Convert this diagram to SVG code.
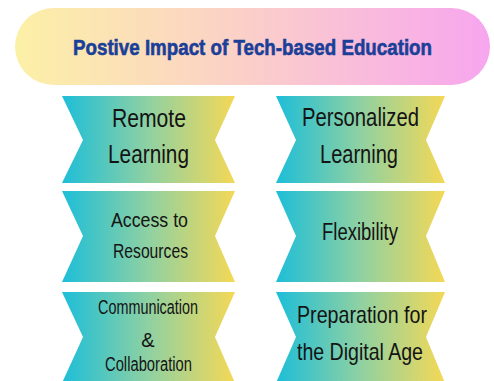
<svg xmlns="http://www.w3.org/2000/svg" width="494" height="381" viewBox="0 0 494 381">
  <defs>
    <linearGradient id="pillFill" x1="0" y1="0" x2="1" y2="0">
      <stop offset="0" stop-color="#fcf0a6"/>
      <stop offset="0.45" stop-color="#fbd2c6"/>
      <stop offset="1" stop-color="#f7a6ef"/>
    </linearGradient>
    <linearGradient id="ribbonFill" x1="0" y1="0" x2="1" y2="0">
      <stop offset="0" stop-color="#1dbed8"/>
      <stop offset="0.5" stop-color="#8fd1a2"/>
      <stop offset="1" stop-color="#f4d856"/>
    </linearGradient>
    <style>
      .ribbon { fill: url(#ribbonFill); }
      .lbl { font-family: "Liberation Sans", Arial, sans-serif; fill: #141414; text-anchor: middle; }
      .title { font-family: "Liberation Sans", Arial, sans-serif; font-weight: bold; fill: #1b3f98; stroke: #1b3f98; stroke-width: 0.6; text-anchor: middle; }
    </style>
  </defs>

  <rect width="494" height="381" fill="#ffffff"/>

  <g id="title">
    <rect x="15" y="8" width="475" height="77" rx="38.5" ry="38.5" fill="url(#pillFill)"/>
    <text class="title" x="252.5" y="55" font-size="21.5" textLength="359" lengthAdjust="spacingAndGlyphs">Postive Impact of Tech-based Education</text>
  </g>

  <g id="remote-learning">
    <polygon class="ribbon" points="62,96 235,96 215,140 235,183 62,183 83,140"/>
    <text class="lbl" x="149" y="127" font-size="25" textLength="74" lengthAdjust="spacingAndGlyphs">Remote</text>
    <text class="lbl" x="148.5" y="163" font-size="25" textLength="81" lengthAdjust="spacingAndGlyphs">Learning</text>
  </g>

  <g id="personalized-learning">
    <polygon class="ribbon" points="276,96 445,96 426,140 445,183 276,183 296,140"/>
    <text class="lbl" x="360.5" y="126" font-size="25" textLength="117" lengthAdjust="spacingAndGlyphs">Personalized</text>
    <text class="lbl" x="359" y="163" font-size="25" textLength="78" lengthAdjust="spacingAndGlyphs">Learning</text>
  </g>

  <g id="access-to-resources">
    <polygon class="ribbon" points="62,191 235,191 215,236 235,282 62,282 83,236"/>
    <text class="lbl" x="149.5" y="227" font-size="21" textLength="77" lengthAdjust="spacingAndGlyphs">Access to</text>
    <text class="lbl" x="150.5" y="258" font-size="21" textLength="75" lengthAdjust="spacingAndGlyphs">Resources</text>
  </g>

  <g id="flexibility">
    <polygon class="ribbon" points="276,191 445,191 426,236 445,282 276,282 296,236"/>
    <text class="lbl" x="360" y="240" font-size="23" textLength="76" lengthAdjust="spacingAndGlyphs">Flexibility</text>
  </g>

  <g id="communication-collaboration">
    <polygon class="ribbon" points="62,292 235,292 215,337 235,383 62,383 83,337"/>
    <text class="lbl" x="148" y="314" font-size="20" textLength="100" lengthAdjust="spacingAndGlyphs">Communication</text>
    <text class="lbl" x="148" y="347" font-size="20">&amp;</text>
    <text class="lbl" x="148.5" y="371" font-size="20" textLength="87" lengthAdjust="spacingAndGlyphs">Collaboration</text>
  </g>

  <g id="digital-age">
    <polygon class="ribbon" points="276,292 445,292 426,337 445,383 276,383 296,337"/>
    <text class="lbl" x="362" y="323" font-size="24" textLength="130" lengthAdjust="spacingAndGlyphs">Preparation for</text>
    <text class="lbl" x="360" y="360" font-size="24" textLength="126" lengthAdjust="spacingAndGlyphs">the Digital Age</text>
  </g>

  <g id="connectors"></g>
</svg>
